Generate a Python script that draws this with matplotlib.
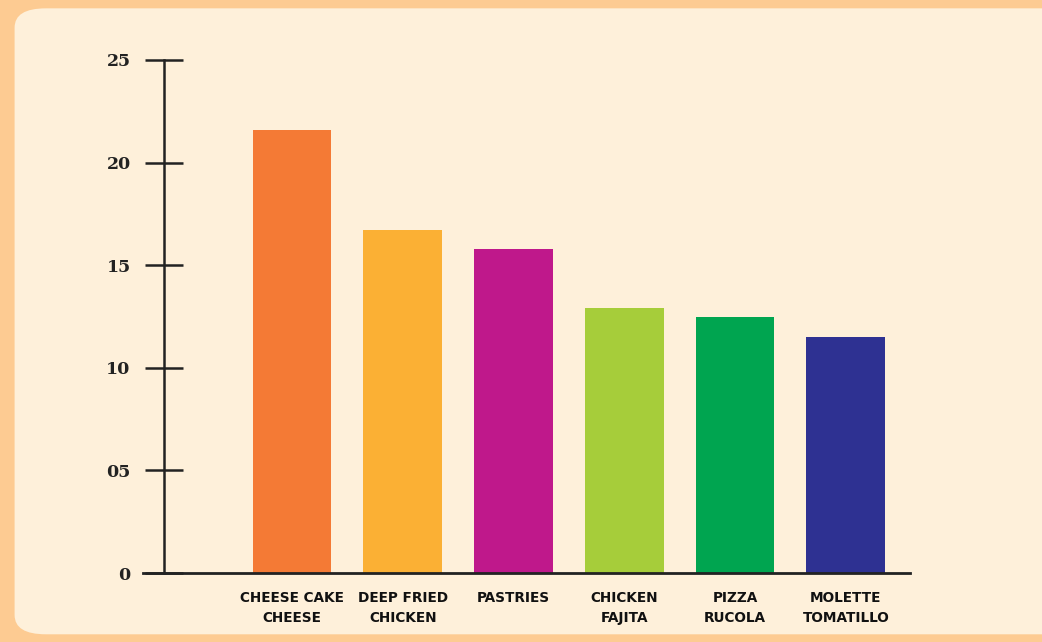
import matplotlib
matplotlib.use("Agg")
import matplotlib.pyplot as plt
from matplotlib.patches import FancyBboxPatch

# values
dishes = ["CHEESE CAKE\nCHEESE", "DEEP FRIED\nCHICKEN", "PASTRIES",
          "CHICKEN\nFAJITA", "PIZZA\nRUCOLA", "MOLETTE\nTOMATILLO"]
servings = [21.6, 16.7, 15.8, 12.9, 12.5, 11.5]
bar_colors = ["#F47A35", "#FBB034", "#BF188B", "#A6CD3A", "#00A550", "#2E3192"]
y_ticks = [0, 5, 10, 15, 20, 25]
y_labels = ["0", "05", "10", "15", "20", "25"]

fig = plt.figure(figsize=(10.42, 6.42), dpi=100)
fig.patch.set_facecolor("#FDCB92")

# cream rounded panel, kept behind the axes
panel = FancyBboxPatch((0.014, 0.012), 1.2, 0.975,
                       boxstyle="round,pad=0,rounding_size=0.03",
                       transform=fig.transFigure, facecolor="#FEF0DA",
                       edgecolor="none", zorder=-5)
fig.patches.append(panel)

ax = fig.add_axes([143 / 1042, 1 - 573 / 642, (910 - 143) / 1042, (573 - 60) / 642])
ax.set_facecolor("none")

x = range(len(dishes))
ax.bar(x, servings, width=0.71, color=bar_colors, zorder=2)

ax.set_xlim(-1.345, 5.58)
ax.set_ylim(0, 25)

for s in ["top", "right"]:
    ax.spines[s].set_visible(False)
ax.spines["left"].set_position(("data", -1.155))
ax.spines["left"].set_color("#222222")
ax.spines["bottom"].set_color("#222222")
ax.spines["left"].set_linewidth(1.8)
ax.spines["bottom"].set_linewidth(2.0)

ax.set_yticks(y_ticks)
ax.set_yticklabels(y_labels, fontfamily="DejaVu Serif", fontweight="heavy",
                   fontsize=12.5, color="#222222")
ax.tick_params(axis="y", direction="inout", length=28, width=1.8,
               color="#222222", pad=10)

ax.set_xticks(list(x))
ax.set_xticklabels(dishes, fontfamily="DejaVu Sans", fontweight="bold",
                   fontsize=9.8, color="#111111", linespacing=1.55)
ax.tick_params(axis="x", length=0, pad=13)

fig.savefig("out.png", dpi=100, facecolor=fig.get_facecolor())
